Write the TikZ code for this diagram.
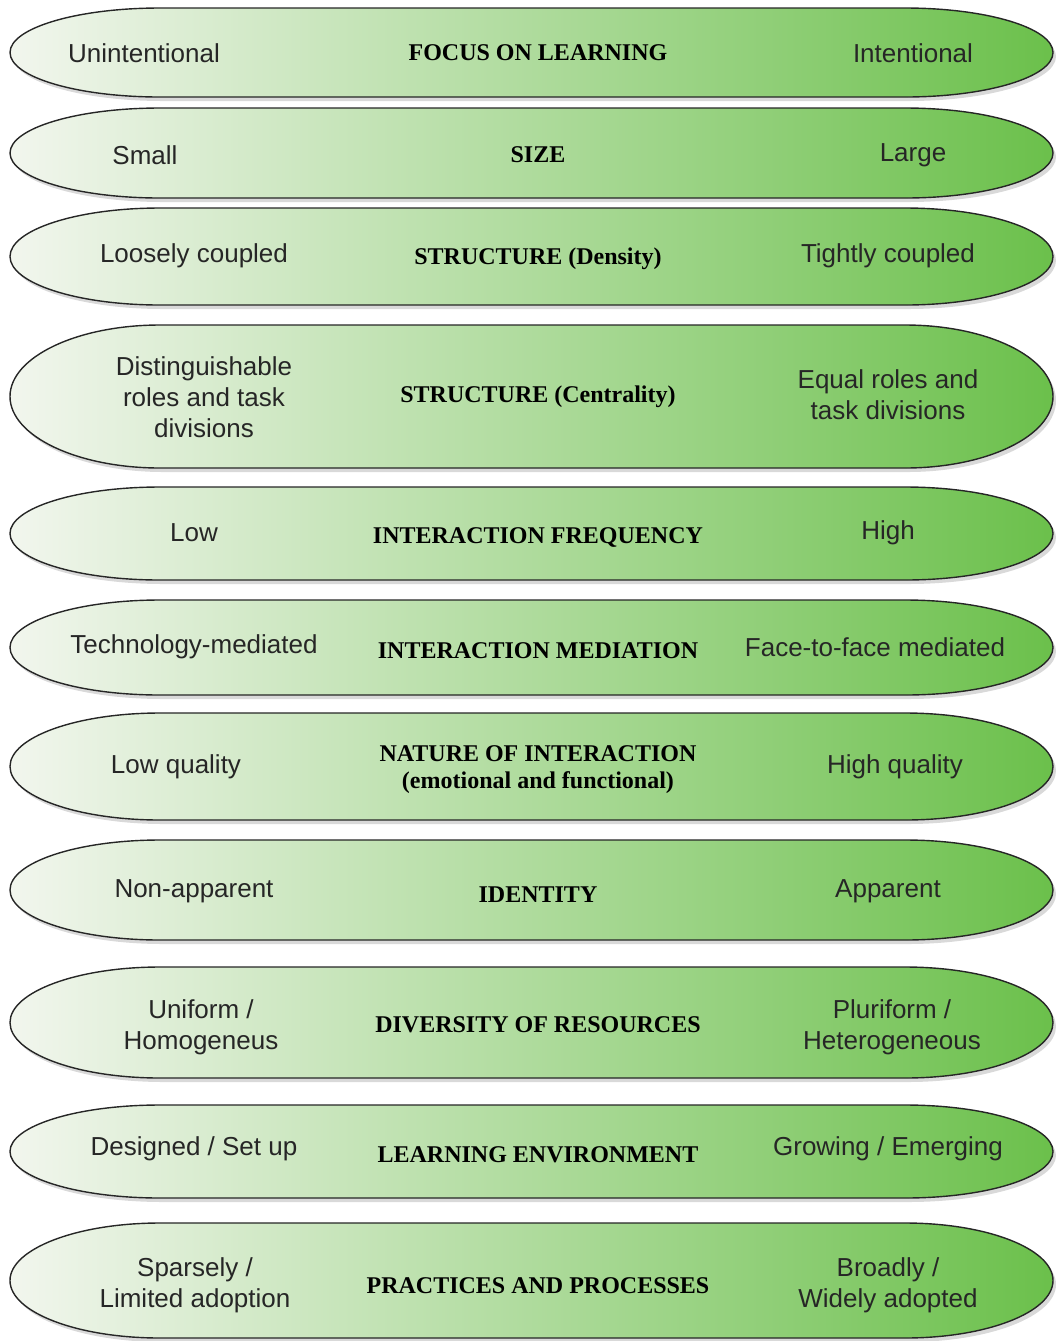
\documentclass[tikz,border=0pt]{standalone}
\usepackage{fontspec}
\newfontfamily\sidefont{Liberation Sans}
\newfontfamily\midfont{Liberation Serif}
\usetikzlibrary{shadows}
\definecolor{paleg}{HTML}{F2F6EE}
\definecolor{leafg}{HTML}{6BC04B}

\begin{document}
\begin{tikzpicture}[
        x=0.5pt, y=-0.5pt,
        band/.style={draw=black!85, line width=0.7pt, left color=paleg, right color=leafg,
            drop shadow={opacity=0.3, shadow xshift=1.5pt, shadow yshift=-2pt}},
        side/.style={font=\sidefont\fontsize{13}{15.5}\selectfont, align=center, text=black!85},
        mid/.style={font=\midfont\bfseries\fontsize{12}{13.5}\selectfont, align=center}
    ]
    \useasboundingbox (0,0) rectangle (1056,1341);

    % Bands
    \foreach \t/\b in {8/97, 108/198, 208/305, 325/468, 487/580, 600/695,
                       713/820, 840/940, 967/1078, 1105/1198, 1223/1338} {
        \pgfmathsetmacro{\r}{(\b-\t)/2}
        \draw[band] (160,\t) -- (905,\t)
            arc[start angle=-90, end angle=90, x radius=148, y radius=\r]
            -- (160,\b)
            arc[start angle=90, end angle=270, x radius=150, y radius=\r] -- cycle;
    }

    % Labels
    \node[side] (l1) at (144,53) {Unintentional};
    \node[mid] (m1) at (538,53) {FOCUS ON LEARNING};
    \node[side] (r1) at (913,53) {Intentional};

    \node[side] (l2) at (145,155) {Small};
    \node[mid] (m2) at (538,155) {SIZE};
    \node[side] (r2) at (913,155) {Large};

    \node[side] (l3) at (194,256) {Loosely coupled};
    \node[mid] (m3) at (538,259) {STRUCTURE (Density)};
    \node[side] (r3) at (888,256) {Tightly coupled};

    \node[side] (l4) at (204,397) {Distinguishable\\roles and task\\divisions};
    \node[mid] (m4) at (538,397) {STRUCTURE (Centrality)};
    \node[side] (r4) at (888,395) {Equal roles and\\task divisions};

    \node[side] (l5) at (194,533) {Low};
    \node[mid] (m5) at (538,537) {INTERACTION FREQUENCY};
    \node[side] (r5) at (888,533) {High};

    \node[side] (l6) at (194,647) {Technology-mediated};
    \node[mid] (m6) at (538,651) {INTERACTION MEDIATION};
    \node[side] (r6) at (875,647) {Face-to-face mediated};

    \node[side] (l7) at (176,767) {Low quality};
    \node[mid] (m7) at (538,770) {NATURE OF INTERACTION\\(emotional and functional)};
    \node[side] (r7) at (895,767) {High quality};

    \node[side] (l8) at (194,891) {Non-apparent};
    \node[mid] (m8) at (538,895) {IDENTITY};
    \node[side] (r8) at (888,891) {Apparent};

    \node[side] (l9) at (201,1027) {Uniform /\\Homogeneus};
    \node[mid] (m9) at (538,1025) {DIVERSITY OF RESOURCES};
    \node[side] (r9) at (892,1027) {Pluriform /\\Heterogeneous};

    \node[side] (l10) at (194,1149) {Designed / Set up};
    \node[mid] (m10) at (538,1155) {LEARNING ENVIRONMENT};
    \node[side] (r10) at (888,1149) {Growing / Emerging};

    \node[side] (l11) at (195,1285) {Sparsely /\\Limited adoption};
    \node[mid] (m11) at (538,1286) {PRACTICES AND PROCESSES};
    \node[side] (r11) at (888,1285) {Broadly /\\Widely adopted};

\end{tikzpicture}
\end{document}
